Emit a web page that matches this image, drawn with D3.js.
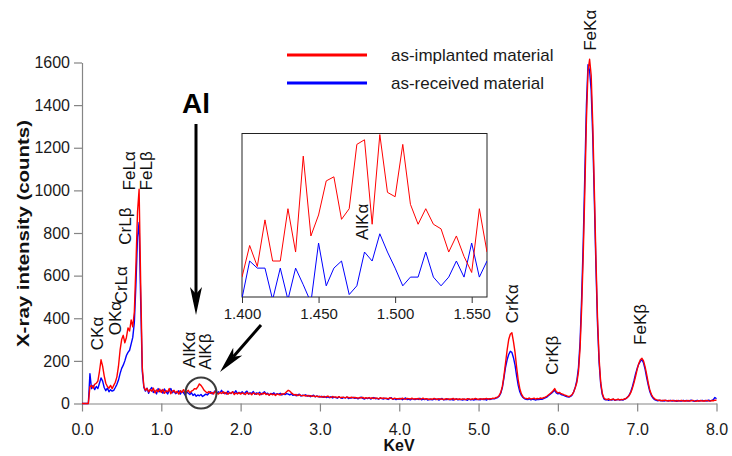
<!DOCTYPE html>
<html><head><meta charset="utf-8">
<script src="https://cdn.jsdelivr.net/npm/d3@7/dist/d3.min.js"></script>
<style>
body{margin:0;background:#fff}
svg{display:block}
text{font-family:"Liberation Sans",Arial,Helvetica,sans-serif}
</style>
</head><body>
<svg id="chart" width="732" height="456"></svg>
<script>
// ---------------- DATA ----------------
const keVStart = 0.0, keVStep = 0.02;   // spectrum channel grid, 0.00 .. 8.00 keV
const redCounts = [ // as-implanted material
0,0,0,0,0,78,85,72,90,95,
105,150,205,175,130,95,80,72,85,70,
85,100,125,175,250,300,320,285,310,355,
340,392,360,430,650,900,1005,560,170,80,
62,70,55,65,58,72,50,64,55,68,
52,66,48,60,55,70,46,58,62,50,
57,44,60,52,65,48,55,62,50,58,
62,70,68,78,92,85,74,62,55,50,
56,48,52,45,58,50,44,52,47,55,
46,52,43,50,48,55,42,49,45,51,
44,50,47,42,52,45,48,41,50,46,
43,48,40,47,44,50,42,45,39,46,
41,44,38,45,42,40,46,43,48,55,
62,58,50,44,40,42,37,41,38,36,
39,35,38,34,37,33,36,32,35,31,
34,30,33,29,32,35,30,28,33,29,
31,28,32,27,30,29,26,31,28,27,
30,26,29,27,25,28,26,29,24,27,
25,28,24,27,23,26,25,22,27,24,
26,23,25,22,27,24,21,25,23,22,
24,21,25,22,20,24,23,21,25,20,
23,21,24,19,22,25,20,23,21,19,
22,20,24,21,19,23,20,22,18,21,
23,19,21,20,24,18,22,20,21,19,
22,20,18,23,21,19,22,20,24,21,
19,23,20,22,21,24,20,23,22,25,
24,28,30,38,52,80,130,190,250,300,
325,332,290,240,170,110,70,45,32,25,
24,22,26,21,23,25,20,24,22,26,
24,27,30,34,40,46,52,60,70,56,
50,52,46,44,40,38,35,32,36,42,
55,75,100,150,260,450,700,1000,1330,1560,
1615,1540,1310,1000,680,400,210,100,48,26,
20,18,22,17,19,21,16,18,20,17,
19,18,21,24,30,38,52,72,98,128,
160,188,205,212,200,172,135,95,62,42,
30,22,18,16,14,15,13,16,14,12,
14,12,15,13,11,14,12,13,15,11,
13,12,14,11,13,15,12,10,13,12,
14,11,13,12,15,12,11,14,13,16,
15];
const blueCounts = [ // as-received material
0,0,0,0,0,140,70,85,65,80,
70,95,120,105,75,60,72,55,65,58,
62,75,90,110,140,165,180,200,225,240,
250,280,310,380,560,780,850,480,150,75,
58,72,48,66,75,52,60,45,70,55,
62,48,68,55,45,60,70,50,58,46,
52,60,44,58,50,40,55,48,42,50,
38,45,34,40,36,42,33,38,44,40,
48,55,45,52,60,47,55,50,62,48,
52,45,58,50,47,55,49,60,46,52,
48,55,45,52,58,44,50,47,56,43,
50,46,53,42,49,55,45,48,40,47,
44,50,41,46,43,48,40,45,42,46,
44,40,46,38,42,36,40,44,35,39,
37,41,34,38,32,36,39,31,35,33,
30,34,29,33,28,31,27,32,26,30,
28,25,31,27,24,29,26,30,23,27,
26,29,24,27,22,26,30,24,21,25,
23,27,21,25,28,22,24,20,26,23,
21,25,22,19,24,27,20,23,18,22,
20,24,18,22,26,19,21,17,23,20,
18,22,19,25,17,21,18,22,16,20,
19,17,22,18,21,16,20,24,17,19,
18,21,17,20,16,19,22,17,20,18,
16,20,18,15,21,17,19,16,20,18,
19,17,21,18,20,16,22,19,21,23,
22,25,28,34,48,75,120,170,205,230,
245,240,215,180,130,85,55,38,28,22,
20,18,22,17,21,19,16,20,18,21,
20,23,26,30,36,42,48,55,62,50,
45,48,42,40,37,34,31,30,33,40,
55,78,110,170,290,500,760,1080,1400,1590,
1560,1470,1250,950,640,370,190,90,42,22,
17,19,15,18,16,20,15,17,19,16,
18,16,20,23,30,40,56,80,108,140,
165,185,198,205,190,160,120,85,55,36,
25,18,15,13,16,12,14,11,15,13,
12,15,11,14,13,10,14,12,11,15,
12,14,11,13,16,12,10,13,15,11,
13,15,12,14,11,16,13,15,18,28,
22];

// inset (Al K region), channel grid 1.400 .. 1.560 keV
const insetStart = 1.400, insetStep = 0.005;
const insetRed  = [27.3,38.9,31.2,48.3,33.2,33.2,52.4,36.5,71.7,42.4,50.1,62.6,64.1,48.5,52.4,76.0,77.7,46.7,79.6,58.4,56.8,76.0,54.0,46.7,52.4,46.7,45.0,36.5,42.4,34.9,29.0,52.4,36.5];
const insetBlue = [19.5,33.2,30.6,30.6,19,30.6,19,30.6,24.5,18,39.8,24.1,30.6,33.2,20.9,24.1,36.5,33.2,43.2,36.5,30.6,24.1,27.3,27.3,36.5,27.3,24.1,27.3,33.2,27.3,39.8,27.3,33.2];

const xTickValues = [0,1,2,3,4,5,6,7,8];
const xMinorValues = d3.range(0, 8.001, 0.2);
const yTickValues = [0,200,400,600,800,1000,1200,1400,1600];
const yMinorValues = d3.range(0, 1601, 100);
const insetTickValues = [1.40,1.45,1.50,1.55];
const insetMinorValues = d3.range(1.40, 1.5601, 0.01);

const seriesNames = ["as-implanted material", "as-received material"];
const seriesColors = ["#ff0000", "#0000ff"];
const xTitle = "KeV";
const yTitle = "X-ray intensity (counts)";

// peak labels: text, baseline position (keV) and starting count level
const peakLabels = [
  {t:"CKα",  e:0.265, c:250},
  {t:"OKα",  e:0.495, c:320},
  {t:"CrLα", e:0.565, c:470},
  {t:"CrLβ", e:0.620, c:745},
  {t:"FeLα", e:0.668, c:1000},
  {t:"FeLβ", e:0.880, c:1000},
  {t:"AlKα", e:1.425, c:167},
  {t:"AlKβ", e:1.625, c:158},
  {t:"CrKα", e:5.495, c:377},
  {t:"CrKβ", e:6.000, c:135},
  {t:"FeKα", e:6.475, c:1655},
  {t:"FeKβ", e:7.110, c:275}
];

// ---------------- DRAW ----------------
const svg = d3.select("#chart");
const x = d3.scaleLinear().domain([0, 8]).range([82, 716.5]);
const y = d3.scaleLinear().domain([0, 1600]).range([403.5, 62.5]);
const axisColor = "#858585";

const energies = redCounts.map((_, i) => keVStart + i * keVStep);

// axes
const gx = svg.append("g").attr("transform", `translate(0,${y(0)})`);
gx.call(d3.axisBottom(x).tickValues(xMinorValues).tickSize(4).tickFormat("").tickSizeOuter(0));
gx.call(d3.axisBottom(x).tickValues(xTickValues).tickSize(8).tickPadding(12).tickSizeOuter(0).tickFormat(d3.format(".1f")));
const gy = svg.append("g").attr("transform", `translate(${x(0)},0)`);
gy.call(d3.axisLeft(y).tickValues(yMinorValues).tickSize(4).tickFormat("").tickSizeOuter(0));
gy.call(d3.axisLeft(y).tickValues(yTickValues).tickSize(8).tickPadding(4).tickSizeOuter(0).tickFormat(d3.format("d")));
svg.selectAll(".domain").attr("stroke", axisColor).attr("stroke-width", 1.2);
svg.selectAll(".tick line").attr("stroke", axisColor).attr("stroke-width", 1.2);
svg.selectAll(".tick text").attr("font-size", 16).attr("fill", "#1a1a1a")
   .attr("font-family", '"Liberation Sans",Arial,sans-serif');

svg.append("text").attr("x", 399).attr("y", 451).attr("text-anchor", "middle")
   .attr("font-size", 16).attr("font-weight", "bold").attr("fill", "#111").text(xTitle);
svg.append("text").attr("transform", "translate(29,233.5) rotate(-90)").attr("text-anchor", "middle")
   .attr("font-size", 17).attr("font-weight", "bold").attr("fill", "#111")
   .attr("textLength", 227).attr("lengthAdjust", "spacingAndGlyphs").text(yTitle);

// spectra
const line = d3.line().x((d, i) => x(energies[i])).y(d => y(d));
svg.append("path").datum(blueCounts).attr("d", line).attr("fill", "none")
   .attr("stroke", seriesColors[1]).attr("stroke-width", 1.4).attr("stroke-linejoin", "round");
svg.append("path").datum(redCounts).attr("d", line).attr("fill", "none")
   .attr("stroke", seriesColors[0]).attr("stroke-width", 1.4).attr("stroke-linejoin", "round");

// legend
seriesNames.forEach((name, k) => {
  const ly = 55 + k * 28;
  svg.append("line").attr("x1", 287).attr("x2", 367).attr("y1", ly).attr("y2", ly)
     .attr("stroke", seriesColors[k]).attr("stroke-width", 3);
  svg.append("text").attr("x", 391).attr("y", ly + 6).attr("font-size", 17).attr("fill", "#1a1a1a").text(name);
});

// peak labels (rotated)
peakLabels.forEach(p => {
  svg.append("text").attr("transform", `translate(${x(p.e)},${y(p.c)}) rotate(-90)`)
     .attr("font-size", 17).attr("fill", "#111").text(p.t);
});

// Al annotation
svg.append("text").attr("x", 196).attr("y", 113).attr("text-anchor", "middle")
   .attr("font-size", 28).attr("font-weight", "bold").attr("fill", "#000").text("Al");

function arrow(x1, y1, x2, y2, head, half) {
  const dx = x2 - x1, dy = y2 - y1, L = Math.hypot(dx, dy);
  const ux = dx / L, uy = dy / L, px = -uy, py = ux;
  const bx = x2 - ux * head, by = y2 - uy * head;
  const nx = x2 - ux * head * 0.75, ny = y2 - uy * head * 0.75;
  svg.append("line").attr("x1", x1).attr("y1", y1).attr("x2", nx).attr("y2", ny)
     .attr("stroke", "#000").attr("stroke-width", 3);
  svg.append("path").attr("d",
     `M${x2},${y2}L${bx + px * half},${by + py * half}L${nx},${ny}L${bx - px * half},${by - py * half}Z`)
     .attr("fill", "#000");
}
arrow(196, 124, 196, 315, 28, 6);
arrow(261, 325, 220, 372, 27, 6);

svg.append("circle").attr("cx", 201).attr("cy", 393).attr("r", 15.5)
   .attr("fill", "none").attr("stroke", "#3c3c3c").attr("stroke-width", 2);

// inset
const ix = d3.scaleLinear().domain([1.400, 1.560]).range([242, 487]);
const iy = d3.scaleLinear().domain([20, 80]).range([297, 133.5]);
svg.append("rect").attr("x", 242).attr("y", 133.5).attr("width", 245).attr("height", 163.5)
   .attr("fill", "#fff").attr("stroke", "#222").attr("stroke-width", 1);
svg.append("clipPath").attr("id", "insetClip").append("rect")
   .attr("x", 242).attr("y", 133.5).attr("width", 245).attr("height", 163.5);
const ig = svg.append("g").attr("transform", `translate(0,297)`);
ig.call(d3.axisBottom(ix).tickValues(insetMinorValues).tickSize(5).tickFormat("").tickSizeOuter(0));
ig.call(d3.axisBottom(ix).tickValues(insetTickValues).tickSize(6).tickPadding(5).tickSizeOuter(0).tickFormat(d3.format(".3f")));
ig.selectAll(".domain").remove();
ig.selectAll(".tick line").attr("stroke", "#333").attr("stroke-width", 1);
ig.selectAll(".tick text").attr("font-size", 15).attr("fill", "#1a1a1a")
  .attr("font-family", '"Liberation Sans",Arial,sans-serif');
const iline = d3.line().x((d, i) => ix(insetStart + i * insetStep)).y(d => iy(d));
const ic = svg.append("g").attr("clip-path", "url(#insetClip)");
ic.append("path").datum(insetBlue).attr("d", iline).attr("fill", "none")
  .attr("stroke", seriesColors[1]).attr("stroke-width", 1);
ic.append("path").datum(insetRed).attr("d", iline).attr("fill", "none")
  .attr("stroke", seriesColors[0]).attr("stroke-width", 1);
svg.append("text").attr("transform", `translate(368,240) rotate(-90)`)
   .attr("font-size", 17).attr("fill", "#111").text("AlKα");
</script>
</body></html>
